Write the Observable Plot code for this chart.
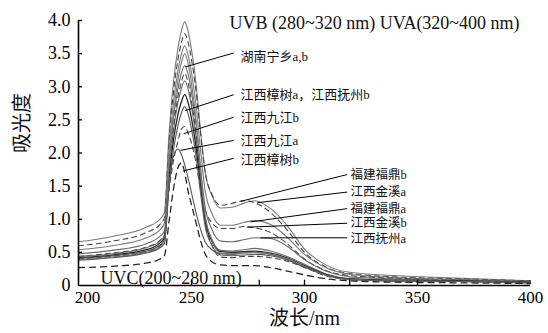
<!DOCTYPE html>
<html>
<head>
<meta charset="utf-8">
<script src="https://cdn.jsdelivr.net/npm/d3@7"></script>
<script src="https://cdn.jsdelivr.net/npm/@observablehq/plot@0.6"></script>
<style>
  html, body { margin: 0; padding: 0; background: #fff; }
  #chart { width: 548px; height: 333px; }
  #chart svg, #chart svg text { font-family: "Liberation Serif", "Noto Sans CJK SC", serif !important; }
</style>
</head>
<body>
<div id="chart"></div>
<script>
// ---- data ----
const wavelengths = [200, 215, 230, 236, 238, 240, 242, 244, 245.5, 247, 248.5, 250, 252, 254, 256, 259, 263, 268, 273, 278, 285, 292, 300, 310, 320, 340, 370, 400];

const jinxiA     = [0.66, 0.74, 0.88, 1.00, 1.10, 2.25, 3.06, 3.58, 3.84, 3.98, 3.84, 3.56, 3.05, 2.34, 1.72, 1.36, 1.17, 1.18, 1.24, 1.28, 1.16, 0.92, 0.55, 0.30, 0.20, 0.15, 0.11, 0.07];
const fudingB    = [0.60, 0.67, 0.80, 0.92, 1.02, 2.13, 2.91, 3.41, 3.66, 3.80, 3.67, 3.41, 2.94, 2.29, 1.72, 1.38, 1.21, 1.24, 1.28, 1.25, 1.10, 0.85, 0.50, 0.27, 0.18, 0.13, 0.10, 0.07];
const fudingA    = [0.54, 0.60, 0.72, 0.84, 0.94, 2.01, 2.76, 3.24, 3.49, 3.62, 3.48, 3.21, 2.72, 2.04, 1.44, 1.09, 0.91, 0.91, 0.95, 0.98, 0.92, 0.74, 0.47, 0.26, 0.17, 0.12, 0.09, 0.06];
const jinxiB     = [0.44, 0.49, 0.58, 0.68, 0.76, 1.42, 1.88, 2.18, 2.36, 2.40, 2.30, 2.15, 1.85, 1.45, 1.15, 0.95, 0.86, 0.86, 0.89, 0.87, 0.80, 0.64, 0.40, 0.22, 0.15, 0.11, 0.08, 0.06];
const fuzhouA    = [0.48, 0.53, 0.63, 0.74, 0.82, 1.82, 2.52, 2.97, 3.20, 3.32, 3.19, 2.92, 2.44, 1.78, 1.19, 0.85, 0.67, 0.66, 0.69, 0.72, 0.71, 0.60, 0.39, 0.21, 0.13, 0.10, 0.08, 0.05];
const ningxiangA = [0.44, 0.48, 0.57, 0.67, 0.75, 1.69, 2.34, 2.76, 2.97, 3.09, 2.96, 2.70, 2.24, 1.60, 1.03, 0.70, 0.53, 0.52, 0.54, 0.56, 0.52, 0.44, 0.32, 0.17, 0.10, 0.08, 0.07, 0.05];
const ningxiangB = [0.42, 0.46, 0.54, 0.64, 0.72, 1.58, 2.19, 2.58, 2.77, 2.88, 2.76, 2.52, 2.09, 1.50, 0.98, 0.67, 0.51, 0.50, 0.51, 0.52, 0.49, 0.42, 0.30, 0.16, 0.10, 0.08, 0.07, 0.05];
const jiujiangA  = [0.41, 0.45, 0.52, 0.61, 0.68, 1.48, 1.95, 2.06, 1.98, 1.82, 1.62, 1.40, 1.10, 0.85, 0.66, 0.54, 0.48, 0.47, 0.49, 0.50, 0.47, 0.40, 0.28, 0.15, 0.09, 0.07, 0.06, 0.05];
const zhangshuB  = [0.40, 0.44, 0.51, 0.60, 0.67, 1.68, 2.39, 2.85, 3.07, 3.20, 3.06, 2.78, 2.28, 1.59, 0.98, 0.61, 0.43, 0.42, 0.44, 0.44, 0.42, 0.37, 0.27, 0.14, 0.09, 0.07, 0.06, 0.04];
const zhangshuA  = [0.39, 0.43, 0.50, 0.58, 0.65, 1.79, 2.59, 3.10, 3.36, 3.50, 3.35, 3.05, 2.50, 1.75, 1.08, 0.69, 0.49, 0.48, 0.49, 0.50, 0.47, 0.41, 0.29, 0.15, 0.09, 0.07, 0.06, 0.04];
const fuzhouB    = [0.38, 0.42, 0.49, 0.57, 0.63, 1.46, 2.04, 2.41, 2.60, 2.70, 2.59, 2.36, 1.96, 1.40, 0.90, 0.61, 0.46, 0.45, 0.46, 0.47, 0.45, 0.39, 0.28, 0.15, 0.09, 0.07, 0.06, 0.04];
const jiujiangB  = [0.27, 0.29, 0.34, 0.40, 0.45, 0.95, 1.45, 1.78, 1.85, 1.70, 1.42, 1.22, 0.95, 0.68, 0.48, 0.36, 0.31, 0.30, 0.30, 0.30, 0.27, 0.22, 0.16, 0.10, 0.07, 0.05, 0.04, 0.03];

const seriesNames = ["江西金溪a", "福建福鼎b", "福建福鼎a", "江西金溪b", "江西抚州a", "湖南宁乡a", "湖南宁乡b", "江西九江a", "江西樟树b", "江西樟树a", "江西抚州b", "江西九江b"];
const seriesValues = [jinxiA, fudingB, fudingA, jinxiB, fuzhouA, ningxiangA, ningxiangB, jiujiangA, zhangshuB, zhangshuA, fuzhouB, jiujiangB];

// annotation labels (data units)
const leftLabels  = ["湖南宁乡a,b", "江西樟树a，江西抚州b", "江西九江b", "江西九江a", "江西樟树b"];
const leftTextY   = [3.45, 2.88, 2.53, 2.18, 1.90];
const leftFromX   = [247.3, 247.3, 246.5, 245.1, 246.5];
const leftFromY   = [3.30, 2.64, 2.29, 2.04, 1.73];
const leftToY     = [3.51, 2.88, 2.54, 2.19, 1.92];
const leftToX     = 268.7;
const leftTextX   = 271.7;

const rightLabels = ["福建福鼎b", "江西金溪a", "福建福鼎a", "江西金溪b", "江西抚州a"];
const rightTextY  = [1.67, 1.41, 1.16, 0.94, 0.705];
const rightFromX  = [271.7, 279.1, 276.1, 274.6, 280.5];
const rightFromY  = [1.27, 1.25, 0.96, 0.88, 0.72];
const rightToY    = [1.675, 1.41, 1.16, 0.94, 0.72];
const rightToX    = 318.9;
const rightTextX  = 320.4;

const bandTexts = ["UVB (280~320 nm) UVA(320~400 nm)", "UVC(200~280 nm)"];
const bandX = [266.8, 209.7];
const bandY = [3.87, 0.03];

const xTicksFirst = [200];
const xTicks = [250, 300, 350, 400];
const xInnerTicks = [250, 280, 300, 320, 350];
const yTicks = [0, 0.5, 1.0, 1.5, 2.0, 2.5, 3.0, 3.5, 4.0];

// ---- styles (kept apart from data) ----
const serif = "Liberation Serif";
const styleFor = {
  "江西金溪a": {stroke: "#7a7a7a", dash: null, w: 1.1},
  "福建福鼎b": {stroke: "#444", dash: "5,4", w: 1.1},
  "福建福鼎a": {stroke: "#7a7a7a", dash: null, w: 1.1},
  "江西金溪b": {stroke: "#444", dash: "5,4", w: 1.1},
  "江西抚州a": {stroke: "#6a6a6a", dash: null, w: 1.1},
  "湖南宁乡a": {stroke: "#6a6a6a", dash: null, w: 1.1},
  "湖南宁乡b": {stroke: "#222", dash: null, w: 1.3},
  "江西九江a": {stroke: "#555", dash: null, w: 1.1},
  "江西樟树b": {stroke: "#444", dash: "5,4", w: 1.1},
  "江西樟树a": {stroke: "#7a7a7a", dash: null, w: 1.1},
  "江西抚州b": {stroke: "#5a5a5a", dash: null, w: 1.1},
  "江西九江b": {stroke: "#222", dash: "6,5", w: 1.3}
};

// ---- build tables ----
const rows = [];
seriesNames.forEach((name, i) => {
  seriesValues[i].forEach((v, j) => rows.push({name, wl: wavelengths[j], a: v}));
});
const leftTable = leftLabels.map((t, i) => ({t, tx: leftTextX, ty: leftTextY[i], x1: leftFromX[i], y1: leftFromY[i], x2: leftToX, y2: leftToY[i]}));
const rightTable = rightLabels.map((t, i) => ({t, tx: rightTextX, ty: rightTextY[i], x1: rightFromX[i], y1: rightFromY[i], x2: rightToX, y2: rightToY[i]}));
const bandTable = bandTexts.map((t, i) => ({t, x: bandX[i], y: bandY[i]}));

const lineMarks = seriesNames.map(name => {
  const s = styleFor[name];
  return Plot.line(rows.filter(r => r.name === name), {
    x: "wl", y: "a", curve: "monotone-x",
    stroke: s.stroke, strokeWidth: s.w, strokeDasharray: s.dash || undefined
  });
});

const chart = Plot.plot({
  width: 548,
  height: 333,
  marginLeft: 78,
  marginRight: 18,
  marginTop: 20,
  marginBottom: 48,
  style: {background: "#fff", color: "#000"},
  x: {domain: [200, 400]},
  y: {domain: [0, 4]},
  marks: [
    ...lineMarks,
    Plot.link(leftTable, {x1: "x1", y1: "y1", x2: "x2", y2: "y2", stroke: "#000", strokeWidth: 1}),
    Plot.link(rightTable, {x1: "x1", y1: "y1", x2: "x2", y2: "y2", stroke: "#000", strokeWidth: 1}),
    Plot.text(leftTable, {x: "tx", y: "ty", text: "t", textAnchor: "start", fontSize: 13, fill: "#111"}),
    Plot.text(rightTable, {x: "tx", y: "ty", text: "t", textAnchor: "start", fontSize: 12.5, fill: "#111"}),
    Plot.text(bandTable, {x: "x", y: "y", text: "t", textAnchor: "start", lineAnchor: "bottom", fontSize: 18, fill: "#111"}),
    // inner tick marks
    Plot.ruleX(xInnerTicks, {x: d => d, y1: 0, y2: 0.08, stroke: "#000", strokeWidth: 1.3}),
    Plot.ruleY(yTicks.slice(1), {y: d => d, x1: 200, x2: 201.8, stroke: "#000", strokeWidth: 1.3}),
    // axis lines
    Plot.ruleY([0], {stroke: "#000", strokeWidth: 1.6}),
    Plot.ruleX([200], {stroke: "#000", strokeWidth: 1.6}),
    Plot.axisY({ticks: yTicks, tickSize: 0, tickPadding: 8, fontSize: 18, fontFamily: serif, label: null,
      tickFormat: d => d === 0 ? "0" : d.toFixed(1)}),
    Plot.axisX({ticks: xTicks, tickSize: 0, tickPadding: 5, fontSize: 17, fontFamily: serif, label: null, tickFormat: d => String(d)}),
    Plot.axisX({ticks: xTicksFirst, tickSize: 0, tickPadding: 5, dx: 9, fontSize: 17, fontFamily: serif, label: null, tickFormat: d => String(d)}),
    Plot.text(["吸光度"], {frameAnchor: "left", rotate: -90, dx: -56, fontSize: 20, fill: "#111"}),
    Plot.text(["波长/nm"], {frameAnchor: "bottom", dy: 39, fontSize: 20, fill: "#111"})
  ]
});
document.getElementById("chart").appendChild(chart);
</script>
</body>
</html>
